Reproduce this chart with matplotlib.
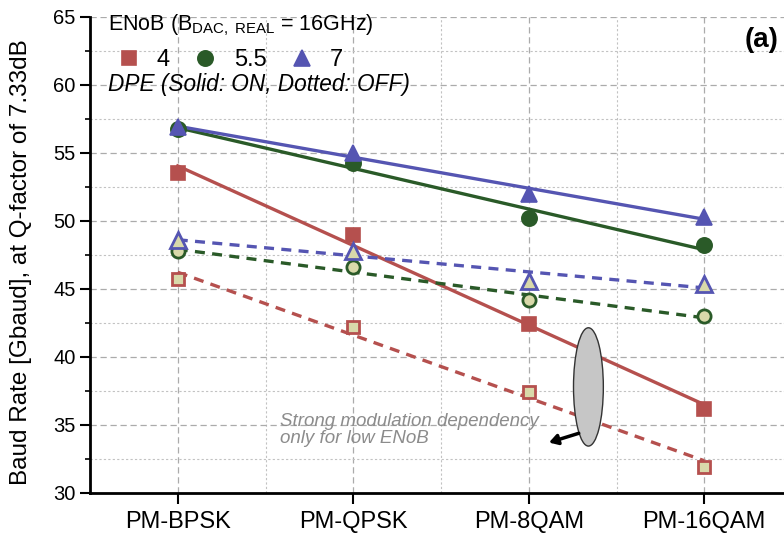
import numpy as np
import matplotlib
matplotlib.use("Agg")
import matplotlib.pyplot as plt
from matplotlib.patches import Ellipse
from matplotlib.ticker import MultipleLocator, FixedLocator

plt.rcParams['font.family'] = ['Liberation Sans', 'DejaVu Sans']
plt.rcParams['mathtext.fontset'] = 'custom'
plt.rcParams['mathtext.rm'] = 'Liberation Sans'
plt.rcParams['mathtext.it'] = 'Liberation Sans:italic'

# Modulation formats on the x axis
formats = ["PM-BPSK", "PM-QPSK", "PM-8QAM", "PM-16QAM"]

# Baud rate [Gbaud] at Q-factor 7.33 dB, DPE ON
on_enob4 = [53.5, 49.0, 42.4, 36.2]
on_enob55 = [56.8, 54.3, 50.2, 48.2]
on_enob7 = [56.9, 55.0, 52.0, 50.3]

# Baud rate [Gbaud] at Q-factor 7.33 dB, DPE OFF
off_enob4 = [45.7, 42.2, 37.4, 31.9]
off_enob55 = [47.8, 46.6, 44.2, 43.0]
off_enob7 = [48.6, 47.8, 45.6, 45.4]

enob_labels = ["4", "5.5", "7"]

red = "#b5504e"
green = "#2a5a28"
blue = "#5555b2"
pale = "#d9d9aa"

fig = plt.figure(figsize=(7.84, 5.35), dpi=100)
ax = fig.add_axes([90 / 784, 1 - 493 / 535, 702 / 784, 476 / 535])

x = np.arange(len(formats))

series = [
    (on_enob4, red, "s", 10, True),
    (on_enob55, green, "o", 11, True),
    (on_enob7, blue, "^", 12, True),
    (off_enob4, red, "s", 9, False),
    (off_enob55, green, "o", 9.5, False),
    (off_enob7, blue, "^", 11, False),
]

handles = []
for vals, col, mk, ms, solid in series:
    vals = np.asarray(vals)
    # linear trend through each series
    slope, icpt = np.polyfit(x, vals, 1)
    fit = slope * x + icpt
    ls = "-" if solid else (0, (3, 2.2))
    ax.plot(x, fit, color=col, lw=2.4, ls=ls, zorder=3)
    if solid:
        h, = ax.plot(x, vals, ls="none", marker=mk, ms=ms, color=col,
                     mec=col, mew=1.2, zorder=4)
        handles.append(h)
    else:
        ax.plot(x, vals, ls="none", marker=mk, ms=ms, mfc=pale,
                mec=col, mew=2.0, zorder=4)

ax.set_xlim(-0.5, 3.5)
ax.set_ylim(30, 65)

ax.xaxis.set_major_locator(FixedLocator(x))
ax.xaxis.set_minor_locator(FixedLocator([0.5, 1.5, 2.5]))
ax.set_xticklabels(formats, fontsize=17)
ax.yaxis.set_major_locator(MultipleLocator(5))
ax.yaxis.set_minor_locator(MultipleLocator(2.5))
ax.tick_params(axis="y", which="major", labelsize=14.5, length=7.5, width=1.5,
               direction="out", pad=3)
ax.tick_params(axis="y", which="minor", length=3.5, width=1.2, direction="out")
ax.tick_params(axis="x", which="major", length=8, width=1.5, direction="out", pad=5)
ax.tick_params(axis="x", which="minor", length=0)

ax.grid(which="major", color="#ababab", lw=0.9, ls=(0, (5, 3)))
ax.grid(which="minor", color="#c2c2c2", lw=0.8, ls=(0, (2, 2)))
ax.set_axisbelow(True)

for s in ("top", "right"):
    ax.spines[s].set_visible(False)
for s in ("left", "bottom"):
    ax.spines[s].set_linewidth(2)

ax.set_ylabel("Baud Rate [Gbaud], at Q-factor of 7.33dB", fontsize=17.5)
ax.yaxis.set_label_coords(-0.083, 0.485)

# Legend: ENoB markers and line-style note
fig.text(108 / 784, 1 - 25 / 535,
         r"ENoB (B$_{\mathrm{DAC,\ REAL}}$ = 16GHz)",
         fontsize=15.5, ha="left", va="center")
leg = ax.legend(handles, enob_labels, ncol=3, frameon=False, fontsize=17,
                loc="center left", borderaxespad=0, borderpad=0,
                handletextpad=0.5, columnspacing=0.8, handlelength=1.4)
leg.set_bbox_to_anchor((112 / 784, 1 - 60 / 535), transform=fig.transFigure)
fig.text(108 / 784, 1 - 85 / 535, "DPE (Solid: ON, Dotted: OFF)",
         fontsize=16.3, style="italic", ha="left", va="center")

fig.text(778 / 784, 1 - 40 / 535, "(a)", fontsize=20, fontweight="bold",
         ha="right", va="center")

# Annotation for the low-ENoB group
ax.add_patch(Ellipse((2.34, 37.8), 0.17, 8.7, facecolor="#c6c6c6",
                     edgecolor="#333333", lw=1.0, zorder=5))
ax.annotate("", xy=(2.10, 33.65), xytext=(2.30, 34.45),
            arrowprops=dict(arrowstyle="-|>,head_length=0.5,head_width=0.3",
                            color="black", lw=2.5), zorder=6)
ax.text(0.585, 34.6, "Strong modulation dependency\nonly for low ENoB",
        fontsize=13.5, style="italic", color="#8c8c8c", ha="left",
        va="center", linespacing=1.0, zorder=5)

fig.savefig("out.png", dpi=100)
